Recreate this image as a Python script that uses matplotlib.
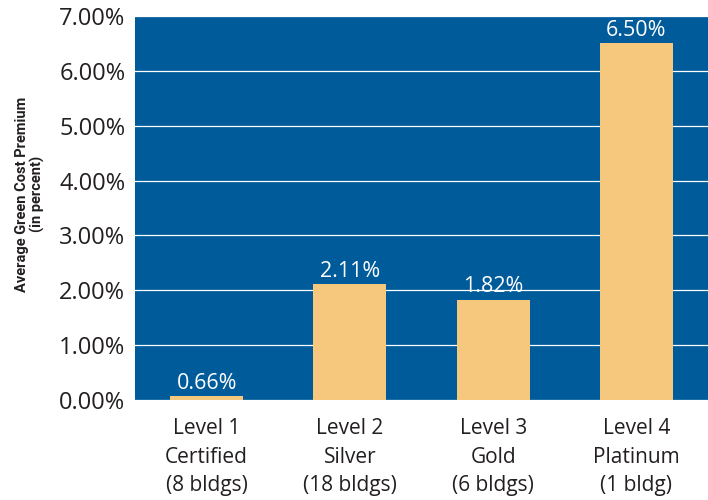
import matplotlib
matplotlib.use("Agg")
import matplotlib.pyplot as plt
from matplotlib.ticker import FuncFormatter

categories = ["Level 1\nCertified\n(8 bldgs)", "Level 2\nSilver\n(18 bldgs)",
              "Level 3\nGold\n(6 bldgs)", "Level 4\nPlatinum\n(1 bldg)"]
# bar heights as drawn in the picture (first bar is drawn very short)
bar_heights = [0.066, 2.11, 1.82, 6.50]
# values printed above the bars
bar_labels = [0.66, 2.11, 1.82, 6.50]

blue = "#005b9b"
bar_color = "#f5c87e"

plt.rcParams['font.family'] = ['Open Sans', 'DejaVu Sans']

fig = plt.figure(figsize=(7.08, 5.0), dpi=100)
ax = fig.add_axes([135 / 708, 1 - 400 / 500, 573 / 708, 384 / 500])
ax.set_facecolor(blue)

x = range(len(categories))
ax.bar(x, bar_heights, width=0.51, color=bar_color, zorder=3)
for xi, h, lab in zip(x, bar_heights, bar_labels):
    ax.text(xi, h + 0.05, f"{lab:.2f}%", ha='center', va='bottom',
            color='white', fontsize=15.5, zorder=4)

ax.set_xlim(-0.5, 3.5)
ax.set_ylim(0, 7)
ax.set_yticks(range(0, 8))
ax.yaxis.set_major_formatter(FuncFormatter(lambda v, p: f"{v:.2f}%"))
ax.set_xticks(list(x))
ax.set_xticklabels(categories, fontsize=15, color='#231f20', linespacing=1.47)
ax.tick_params(axis='y', labelsize=17, labelcolor='#231f20', length=0, pad=7)
ax.tick_params(axis='x', length=0, pad=13)
ax.grid(axis='y', color='white', linewidth=0.9, zorder=1)
for s in ax.spines.values():
    s.set_visible(False)

fig.text(30 / 708, 1 - 194 / 500, "Average Green Cost Premium\n(in percent)",
         rotation=90, ha='center', va='center', fontsize=10.5,
         fontweight='bold', color='#231f20', linespacing=1.1,
         family=['Liberation Sans Narrow', 'Roboto', 'DejaVu Sans'])

fig.savefig("out.png", dpi=100)
